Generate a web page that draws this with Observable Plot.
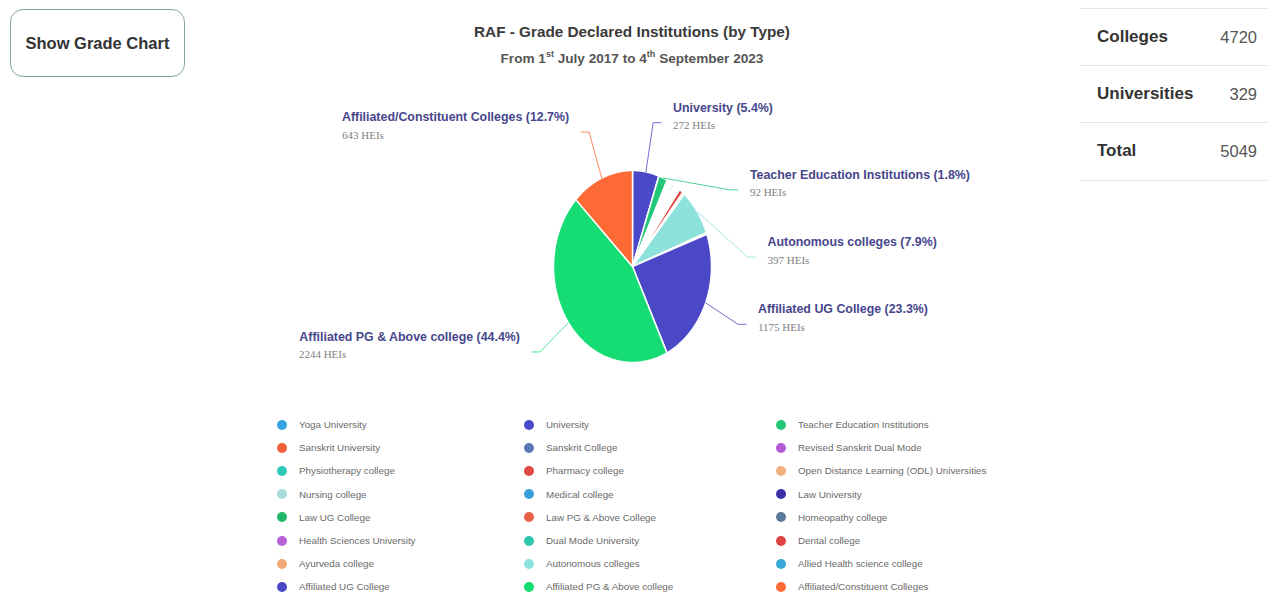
<!DOCTYPE html>
<html>
<head>
<meta charset="utf-8">
<script src="https://cdn.jsdelivr.net/npm/d3@7"></script>
<script src="https://cdn.jsdelivr.net/npm/@observablehq/plot@0.6"></script>
<style>
  html, body { margin: 0; padding: 0; background: #fff; }
  body { width: 1275px; height: 596px; overflow: hidden; position: relative; font-family: "Liberation Sans", Arial, sans-serif; }
  #btn { position: absolute; left: 10px; top: 9px; width: 175px; height: 68px; box-sizing: border-box;
         border: 1.5px solid #86a6a6; border-radius: 13px; display: flex; align-items: center; justify-content: center;
         font-weight: bold; font-size: 16.5px; color: #333; }
  #title { position: absolute; left: 382px; width: 500px; top: 23px; text-align: center; font-size: 15.3px; font-weight: bold; color: #3a3a3a; }
  #subtitle { position: absolute; left: 382px; width: 500px; top: 49px; text-align: center; font-size: 13.6px; font-weight: bold; color: #555; }
  #subtitle sup { font-size: 9px; }
  #chart { position: absolute; left: 0; top: 0; }
  #table { position: absolute; left: 1080px; top: 8px; width: 188px; }
  .trow { height: 57px; border-top: 1.5px solid #e8e8e8; box-sizing: border-box; display: flex; align-items: center; justify-content: space-between; padding: 0 11px 0 17px; }
  .trow:last-child { border-bottom: 1.5px solid #e8e8e8; height: 58.5px; }
  .tl { font-weight: bold; font-size: 17px; color: #333; }
  .tv { font-size: 16.5px; color: #555; }
  #legend { position: absolute; left: 277px; top: 413px; display: grid; grid-template-columns: 247px 252px 250px; grid-auto-rows: 23.2px; }
  .li { display: flex; align-items: center; font-size: 9.8px; color: #6a6a6a; white-space: nowrap; }
  .dot { width: 10px; height: 10px; border-radius: 50%; margin-right: 12px; flex: none; }
</style>
</head>
<body>
<div id="btn">Show Grade Chart</div>
<div id="chart"></div>
<div id="title"></div>
<div id="subtitle">From 1<sup>st</sup> July 2017 to 4<sup>th</sup> September 2023</div>
<div id="table"></div>
<div id="legend"></div>
<script>
// ---------- data ----------
const chartTitle = "RAF - Grade Declared Institutions (by Type)";
const names = [
  "Yoga University", "University", "Teacher Education Institutions",
  "Sanskrit University", "Sanskrit College", "Revised Sanskrit Dual Mode",
  "Physiotherapy college", "Pharmacy college", "Open Distance Learning (ODL) Universities",
  "Nursing college", "Medical college", "Law University",
  "Law UG College", "Law PG & Above College", "Homeopathy college",
  "Health Sciences University", "Dual Mode University", "Dental college",
  "Ayurveda college", "Autonomous colleges", "Allied Health science college",
  "Affiliated UG College", "Affiliated PG & Above college", "Affiliated/Constituent Colleges"
];
const counts = [
  1, 272, 92,
  14, 8, 1,
  10, 10, 6,
  18, 16, 13,
  14, 10, 8,
  14, 8, 40,
  20, 397, 15,
  1175, 2244, 643
];
const colors = [
  "#35a4e0", "#4a49c9", "#22c878",
  "#f0603a", "#5a78b4", "#b45ad6",
  "#2ec8b8", "#e24848", "#f0b080",
  "#a8dcd8", "#3aa0dc", "#3b32a8",
  "#20b868", "#e86048", "#5a7a9a",
  "#b862d8", "#2ec8b0", "#e04444",
  "#f0a878", "#8ee2dc", "#38a8d8",
  "#4b48c8", "#16dc74", "#fd6a36"
];
const tableLabels = ["Colleges", "Universities", "Total"];
const tableValues = [4720, 329, 5049];
const unitLabel = "HEIs";

// ---------- header / table / legend ----------
document.getElementById("title").textContent = chartTitle;
const tbl = document.getElementById("table");
tableLabels.forEach((l, i) => {
  const r = document.createElement("div"); r.className = "trow";
  r.innerHTML = `<span class="tl">${l}</span><span class="tv">${tableValues[i]}</span>`;
  tbl.appendChild(r);
});
const leg = document.getElementById("legend");
names.forEach((n, i) => {
  const it = document.createElement("div"); it.className = "li";
  const d = document.createElement("span"); d.className = "dot"; d.style.background = colors[i];
  it.appendChild(d); it.appendChild(document.createTextNode(n));
  leg.appendChild(it);
});

// ---------- pie geometry (in radius units) ----------
const total = d3.sum(counts);
let cum = 0;
const slices = names.map((name, i) => {
  const a0 = cum / total * 2 * Math.PI; cum += counts[i];
  const a1 = cum / total * 2 * Math.PI;
  return {name, count: counts[i], a0, a1, mid: (a0 + a1) / 2, pct: counts[i] / total * 100};
});
const slicePts = [];
for (const s of slices) {
  slicePts.push({name: s.name, x: 0, y: 0});
  const n = Math.max(2, Math.ceil((s.a1 - s.a0) / (Math.PI / 360)));
  for (let k = 0; k <= n; k++) {
    const a = s.a0 + (s.a1 - s.a0) * k / n;
    slicePts.push({name: s.name, x: Math.sin(a), y: Math.cos(a)});
  }
  slicePts.push({name: s.name, x: 0, y: 0});
}

// label placement (Highcharts-like: ring around pie, pushed apart per side)
const labeled = slices.filter(s => s.pct >= 1.5);
const ringY = 1.52, ringRx = 1.56, ringRy = 1.54, gap = 0.70;
const labels = [];
for (const side of [1, -1]) {
  const arr = labeled.filter(s => (s.mid < Math.PI ? 1 : -1) === side)
    .map(s => ({...s, side, y: ringY * Math.cos(s.mid)}))
    .sort((a, b) => b.y - a.y);
  for (let i = 1; i < arr.length; i++) arr[i].y = Math.min(arr[i].y, arr[i - 1].y - gap);
  for (const l of arr) {
    l.x = side * ringRx * Math.sqrt(Math.max(0, 1 - (l.y / ringRy) ** 2));
    labels.push(l);
  }
}
const connPts = [];
for (const l of labels) {
  connPts.push({name: l.name, x: Math.sin(l.mid), y: Math.cos(l.mid)});
  connPts.push({name: l.name, x: l.x - l.side * 0.1, y: l.y});
  connPts.push({name: l.name, x: l.x, y: l.y});
}
const right = labels.filter(l => l.side === 1), left = labels.filter(l => l.side === -1);
const line1 = d => `${d.name} (${d.pct.toFixed(1)}%)`;
const line2 = d => `${d.count} ${unitLabel}`;
const fs1 = 12.4;
const f1 = {fontWeight: "bold", fontSize: fs1, fill: "#46468c", fontFamily: "Liberation Sans, Arial, sans-serif", dy: -15};
const f2 = {fontSize: 11, fill: "#808080", fontFamily: "Liberation Serif, Times New Roman, serif", dy: 3};
// measure first-line width so that left-side blocks are left-aligned
const ctx = document.createElement("canvas").getContext("2d");
ctx.font = `bold ${fs1}px "Liberation Sans"`;
const w1 = d => ctx.measureText(line1(d)).width;

const cx = 632, cy = 266, rx = 79, ry = 96;
const plot = Plot.plot({
  width: 1275, height: 400, margin: 0,
  x: {domain: [-1, 1], range: [cx - rx, cx + rx], axis: null},
  y: {domain: [-1, 1], range: [cy + ry, cy - ry], axis: null},
  color: {domain: names, range: colors},
  style: {background: "transparent", overflow: "visible"},
  marks: [
    Plot.line(slicePts, {x: "x", y: "y", z: "name", fill: "name", stroke: "white", strokeWidth: 1.5, strokeLinejoin: "round"}),
    Plot.line(connPts, {x: "x", y: "y", z: "name", stroke: "name", strokeWidth: 1, strokeOpacity: 0.8}),
    Plot.text(right, {x: "x", y: "y", text: line1, textAnchor: "start", dx: 12, ...f1}),
    Plot.text(right, {x: "x", y: "y", text: line2, textAnchor: "start", dx: 12, ...f2}),
    Plot.text(left, {x: "x", y: "y", text: line1, textAnchor: "end", dx: -12, ...f1}),
    ...left.map(l => Plot.text([l], {x: "x", y: "y", text: line2, textAnchor: "start", dx: -12 - w1(l), ...f2}))
  ]
});
document.getElementById("chart").appendChild(plot);
</script>
</body>
</html>
